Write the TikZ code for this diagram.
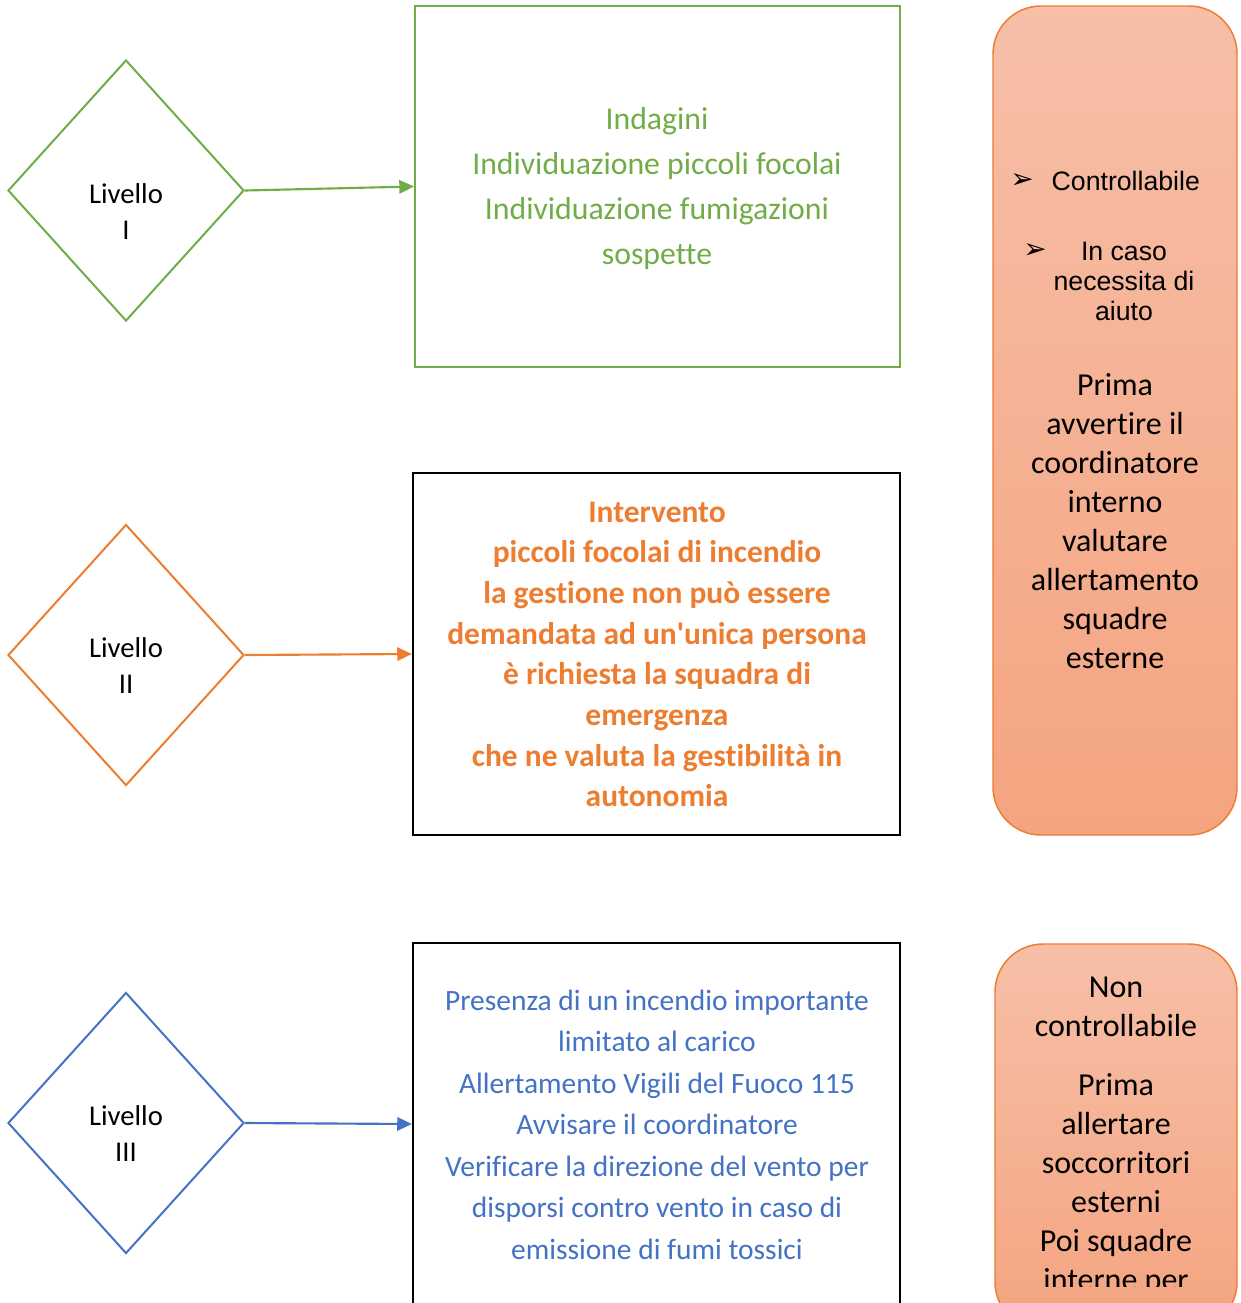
\documentclass[tikz,border=0pt]{standalone}
\usepackage{fontspec}
\setmainfont{Carlito}[Ligatures={NoCommon}]
\newfontfamily\arialf{Liberation Sans}
\newfontfamily\symf{DejaVu Sans}
\usetikzlibrary{shapes.geometric,arrows.meta}
\definecolor{cgreen}{HTML}{70AD47}
\definecolor{corange}{HTML}{ED7D31}
\definecolor{cblue}{HTML}{4472C4}
\definecolor{ctop}{RGB}{247,191,168}
\definecolor{cbot}{RGB}{244,164,128}
\tikzset{
  lvl/.style={diamond, draw=#1, line width=1.5pt, minimum width=177pt, minimum height=195.75pt, inner sep=0pt},
  lvltext/.style={align=center, font=\fontsize{21.5}{27}\selectfont, text=black},
  bigbox/.style={rectangle, draw=#1, minimum width=365pt, minimum height=271.5pt, inner sep=0pt},
  conn/.style={draw=#1, line width=1.6pt, -{Triangle[length=11pt,width=10pt]}},
  sidebox/.style={rectangle, rounded corners=36pt, draw=corange, line width=1.1pt, top color=ctop, bottom color=cbot},
  sidetext/.style={align=center, font=\fontsize{24}{29.25}\selectfont, text=black},
  bullettext/.style={align=center, font=\arialf\fontsize{20}{22.8}\selectfont, text=black},
  bulletmark/.style={font=\symf\fontsize{21}{24}\selectfont, text=black, inner sep=0pt}
}
\begin{document}
\begin{tikzpicture}[x=0.75pt,y=-0.75pt]
\useasboundingbox (0,0) rectangle (1240,1303);
\clip (0,0) rectangle (1240,1303);
\fill[white] (0,0) rectangle (1240,1303);

% diamonds
\node[lvl=cgreen] (d1) at (126,190.5) {};
\node[lvl=corange] (d2) at (126,655) {};
\node[lvl=cblue] (d3) at (126,1123) {};
\node[lvltext] (t1) at (126,211.5) {Livello\\I};
\node[lvltext] (t2) at (126,665.5) {Livello\\II};
\node[lvltext] (t3) at (126,1134) {Livello\\III};

% central boxes
\node[bigbox=cgreen, line width=1.5pt, minimum width=363.75pt, minimum height=270.75pt] (b1) at (657.5,186.5) {};
\node[bigbox=black, line width=1.9pt] (b2) at (656.5,654) {};
\node[bigbox=black, line width=1.9pt] (b3) at (656.5,1124) {};

\node[align=center, text=cgreen, font=\fontsize{23.8}{33.75}\selectfont] (g) at (657,188.5)
 {Indagini\\Individuazione piccoli focolai\\Individuazione fumigazioni\\sospette};
\node[align=center, text=corange, font=\bfseries\fontsize{23.6}{30.5}\selectfont] (o) at (657,654.5)
 {Intervento\\piccoli focolai di incendio\\la gestione non può essere\\demandata ad un\textquotesingle unica persona\\è richiesta la squadra di\\emergenza\\che ne valuta la gestibilità in\\autonomia};
\node[align=center, text=cblue, font=\fontsize{22.1}{31.1}\selectfont] (bl) at (657,1124.5)
 {Presenza di un incendio importante\\limitato al carico\\Allertamento Vigili del Fuoco 115\\Avvisare il coordinatore\\Verificare la direzione del vento per\\disporsi contro vento in caso di\\emissione di fumi tossici};

% connectors
\draw[conn=cgreen] (d1.east) -- (b1.west);
\draw[conn=corange] (d2.east) -- (b2.west);
\draw[conn=cblue] (d3.east) -- (b3.west);

% side boxes
\node[sidebox, minimum width=183pt, minimum height=621.75pt] (r1) at (1115,420.5) {};
\node[sidebox, minimum width=181.5pt, minimum height=289.5pt] (r2) at (1116,1137) {};

\node[bulletmark] (m1) at (1022,181) {➢};
\node[bullettext, anchor=west] (c1) at (1047,181) {Controllabile};
\node[bulletmark] (m2) at (1035,251) {➢};
\node[bullettext] (c2) at (1124,281.5) {In caso\\necessita di\\aiuto};
\node[sidetext] (p1) at (1115,521) {Prima\\avvertire il\\coordinatore\\interno\\valutare\\allertamento\\squadre\\esterne};

\node[sidetext] (n1) at (1116,1006.5) {Non\\controllabile};
\begin{scope}
\clip (995,944) rectangle (1237,1286);
\node[sidetext] (n2) at (1116,1185) {Prima\\allertare\\soccorritori\\esterni\\Poi squadre\\interne per};
\end{scope}
\end{tikzpicture}
\end{document}
